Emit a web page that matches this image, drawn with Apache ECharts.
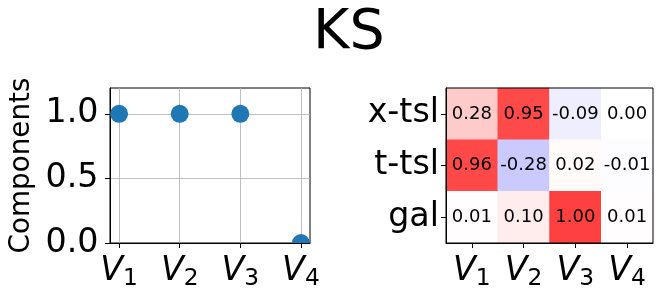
<!DOCTYPE html>
<html><head><meta charset="utf-8">
<script src="https://cdn.jsdelivr.net/npm/echarts@6/dist/echarts.min.js"></script>
<style>html,body{margin:0;padding:0;background:#fff}#c{width:662px;height:299px}</style>
</head><body><div id="c"></div>
<script>
const chartTitle = 'KS';
const compLabels = ['1', '2', '3', '4'];
const compX = [0, 1, 2, 3];
const compValues = [1.0, 1.0, 1.0, 0.0];
const compYTicks = [0, 0.5, 1.0];
const heatRows = ['x-tsl', 't-tsl', 'gal'];
const heatCols = ['1', '2', '3', '4'];
const rowXtsl = [0.28, 0.95, -0.09, 0.00];
const rowTtsl = [0.96, -0.28, 0.02, -0.01];
const rowGal = [0.01, 0.10, 1.00, 0.01];

const FONT = 'DejaVu Sans';
const heatRowsData = [rowXtsl, rowTtsl, rowGal];
const heatData = [];
heatRowsData.forEach((row, r) => row.forEach((v, c) => heatData.push([c, r, v])));

const rich = {
  v: { fontSize: 33.3, fontStyle: 'italic', fontFamily: FONT, color: '#000', lineHeight: 40 },
  s: { fontSize: 23.3, fontFamily: FONT, color: '#000', lineHeight: 23, padding: [15, 0, 0, 0] }
};
const vLabel = (i) => '{v|V}{s|' + i + '}';

const chart = echarts.init(document.getElementById('c'), null, { renderer: 'canvas' });
chart.setOption({
  animation: false,
  backgroundColor: '#fff',
  title: {
    text: chartTitle, left: 308, top: 1,
    textStyle: { fontSize: 55.5, fontWeight: 'normal', color: '#000', fontFamily: FONT }
  },
  grid: [
    { left: 110, top: 88, width: 200, height: 155, show: true, borderColor: '#000', borderWidth: 1, backgroundColor: 'transparent' },
    { left: 446, top: 88, width: 207, height: 155, show: true, borderColor: '#000', borderWidth: 1, backgroundColor: 'transparent', z: 10 }
  ],
  xAxis: [
    {
      gridIndex: 0, type: 'value', min: -0.15, max: 3.15,
      axisLine: { show: true, onZero: false, lineStyle: { color: '#000', width: 1 } },
      axisTick: { show: true, length: 5, customValues: compX, lineStyle: { color: '#000' } },
      axisLabel: { customValues: compX, margin: 8, formatter: v => vLabel(compLabels[Math.round(v)]), rich: rich },
      splitLine: { show: true, lineStyle: { color: '#b0b0b0', width: 0.8 } }
    },
    {
      gridIndex: 1, type: 'category', data: heatCols, z: 10,
      axisLine: { show: true, lineStyle: { color: '#000', width: 1 } },
      axisTick: { show: true, length: 5, alignWithLabel: true, interval: 0, lineStyle: { color: '#000' } },
      axisLabel: { margin: 8, interval: 0, hideOverlap: false, formatter: v => vLabel(v), rich: rich },
      splitLine: { show: false }
    }
  ],
  yAxis: [
    {
      gridIndex: 0, type: 'value', min: 0, max: 1.2,
      name: 'Components', nameLocation: 'middle', nameGap: 74,
      nameTextStyle: { fontSize: 27.8, fontFamily: FONT, color: '#000' },
      axisLine: { show: true, onZero: false, lineStyle: { color: '#000', width: 1 } },
      axisTick: { show: true, length: 5, customValues: compYTicks, lineStyle: { color: '#000' } },
      axisLabel: { customValues: compYTicks, margin: 11.5, fontSize: 33.3, fontFamily: FONT, color: '#000', formatter: v => v.toFixed(1) },
      splitLine: { show: true, lineStyle: { color: '#b0b0b0', width: 0.8 } }
    },
    {
      gridIndex: 1, type: 'category', data: heatRows, inverse: true, z: 10,
      axisLine: { show: true, lineStyle: { color: '#000', width: 1 } },
      axisTick: { show: true, length: 5, alignWithLabel: true, interval: 0, lineStyle: { color: '#000' } },
      axisLabel: { margin: 7, interval: 0, fontSize: 33.3, fontFamily: FONT, color: '#000' },
      splitLine: { show: false }
    }
  ],
  visualMap: {
    show: false, type: 'continuous', min: -1, max: 1, dimension: 2, seriesIndex: 1,
    inRange: { color: ['#4040ff', '#ffffff', '#ff4040'] }
  },
  series: [
    {
      type: 'custom', xAxisIndex: 0, yAxisIndex: 0, clip: true,
      lineStyle: { width: 0.001 },
      data: compX.map((x, i) => [x, compValues[i]]),
      encode: { x: 0, y: 1 },
      renderItem: (params, api) => {
        const p = api.coord([api.value(0), api.value(1)]);
        return { type: 'circle', shape: { cx: p[0], cy: p[1], r: 9 }, style: { fill: '#1f77b4' } };
      }
    },
    {
      type: 'heatmap', xAxisIndex: 1, yAxisIndex: 1, z: 1,
      data: heatData,
      label: { show: true, color: '#000', fontSize: 18, fontFamily: FONT, formatter: p => p.value[2].toFixed(2) },
      emphasis: { disabled: true }
    }
  ]
});
</script></body></html>
